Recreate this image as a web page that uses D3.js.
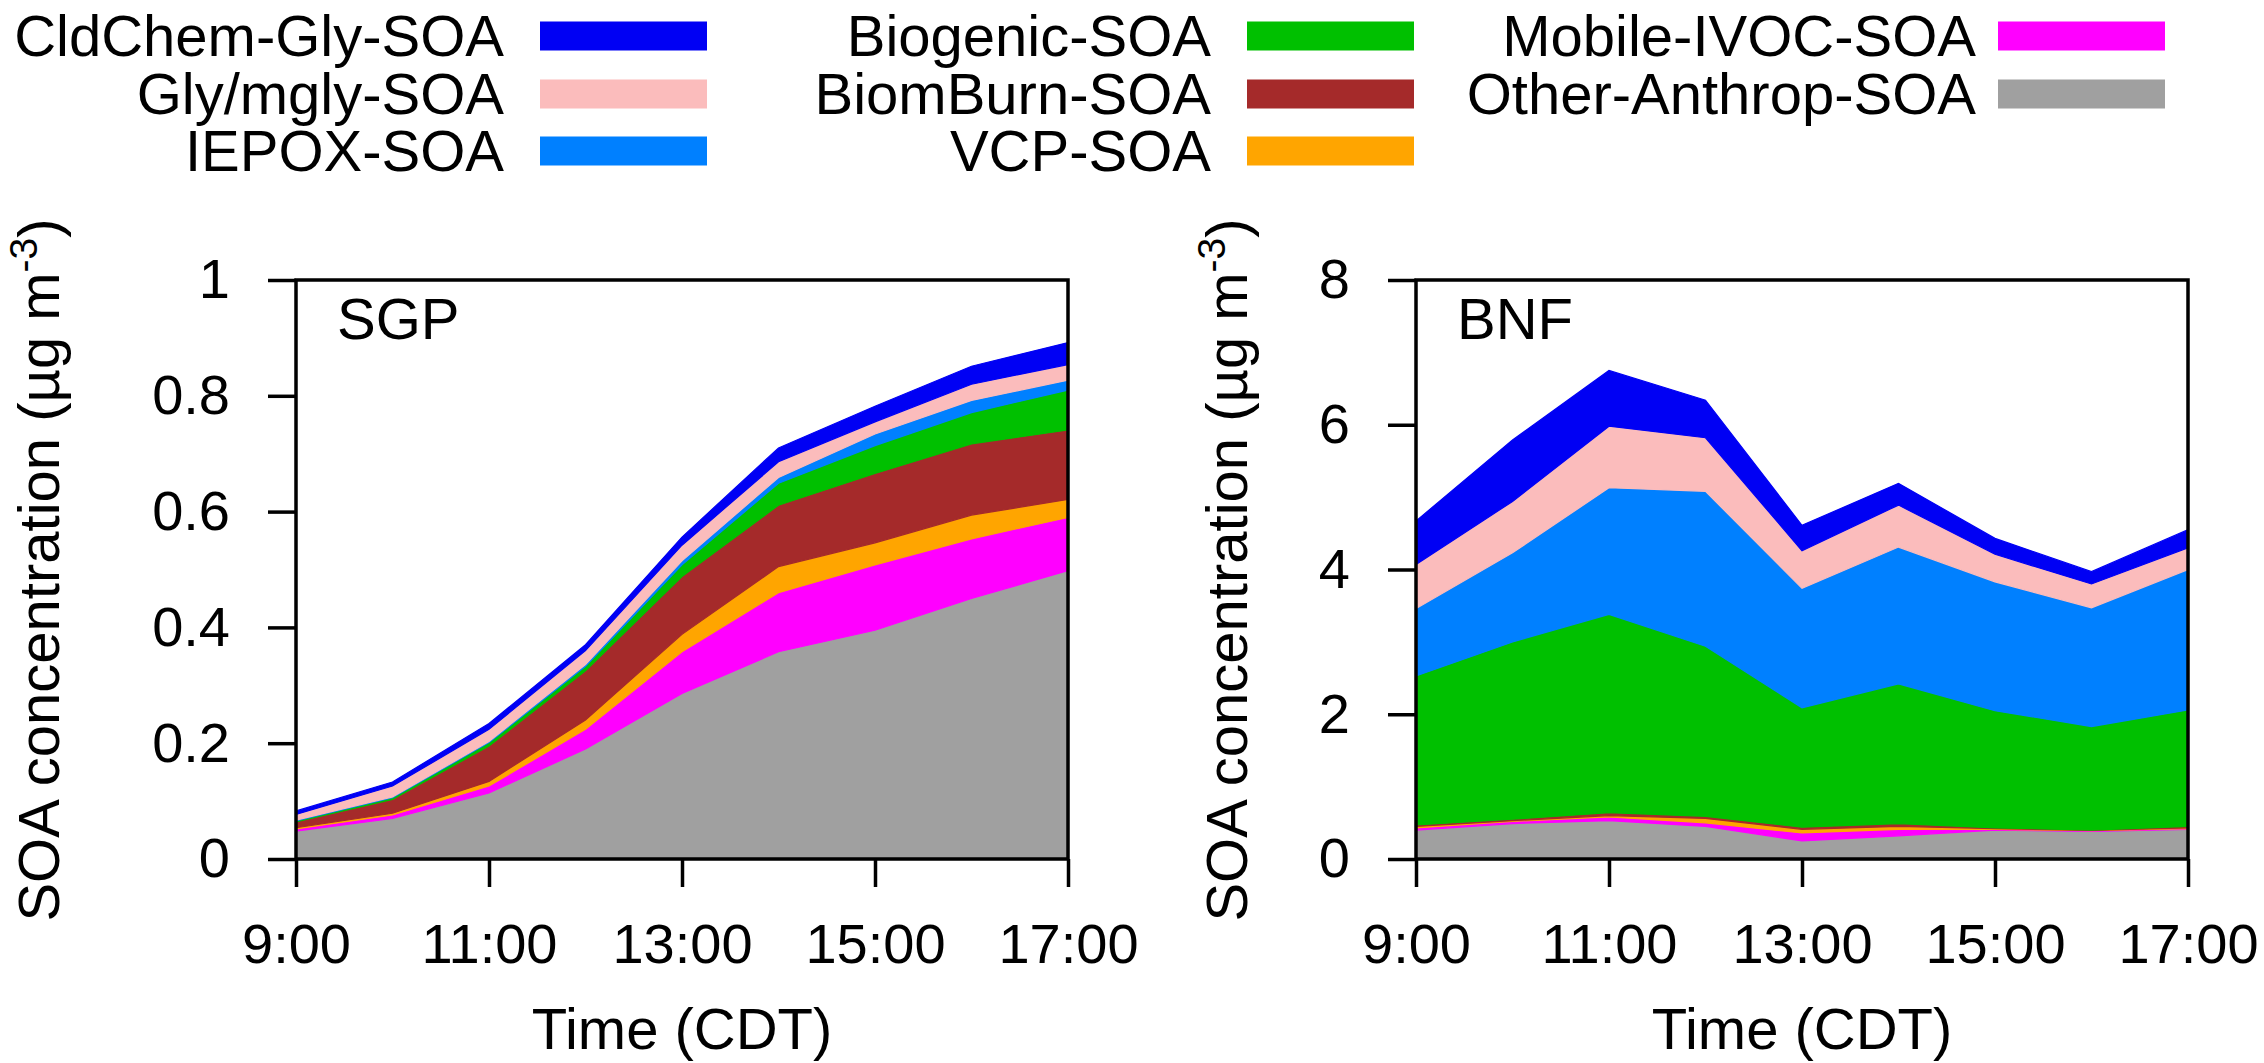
<!DOCTYPE html>
<html>
<head>
<meta charset="utf-8">
<script src="https://cdn.jsdelivr.net/npm/d3@7"></script>
<style>
  html, body { margin: 0; padding: 0; background: #fff; }
  svg { display: block; font-family: "Liberation Sans", Arial, Helvetica, sans-serif; }
</style>
</head>
<body>
<svg id="chart" width="2264" height="1063"></svg>
<script>
// Hourly model output, 9:00 to 17:00 CDT
const hours = [9, 10, 11, 12, 13, 14, 15, 16, 17];
const hourTicks = [9, 11, 13, 15, 17];

// SOA source categories, stacked from the bottom up
const layerNames = [
  "Other-Anthrop-SOA", "Mobile-IVOC-SOA", "VCP-SOA", "BiomBurn-SOA",
  "Biogenic-SOA", "IEPOX-SOA", "Gly/mgly-SOA", "CldChem-Gly-SOA"
];

// SGP site, µg m-3 per category
const sgpOtherAnthrop = [0.048, 0.070, 0.114, 0.190, 0.286, 0.358, 0.395, 0.450, 0.498];
const sgpMobileIvoc   = [0.004, 0.006, 0.012, 0.034, 0.072, 0.102, 0.113, 0.103, 0.092];
const sgpVcp          = [0.002, 0.003, 0.008, 0.016, 0.030, 0.045, 0.038, 0.041, 0.031];
const sgpBiomBurn     = [0.010, 0.024, 0.061, 0.085, 0.100, 0.106, 0.120, 0.123, 0.120];
const sgpBiogenic     = [0.002, 0.003, 0.006, 0.008, 0.020, 0.038, 0.048, 0.054, 0.069];
const sgpIepox        = [0.001, 0.001, 0.002, 0.003, 0.007, 0.010, 0.020, 0.021, 0.017];
const sgpGlyMgly      = [0.010, 0.019, 0.021, 0.024, 0.027, 0.027, 0.021, 0.028, 0.027];
const sgpCldChemGly   = [0.006, 0.007, 0.010, 0.010, 0.014, 0.024, 0.027, 0.031, 0.038];

// BNF site, µg m-3 per category
const bnfOtherAnthrop = [0.40, 0.49, 0.53, 0.45, 0.25, 0.32, 0.40, 0.38, 0.41];
const bnfMobileIvoc   = [0.03, 0.03, 0.05, 0.05, 0.11, 0.09, 0.01, 0.01, 0.01];
const bnfVcp          = [0.02, 0.01, 0.02, 0.06, 0.05, 0.04, 0.01, 0.005, 0.01];
const bnfBiomBurn     = [0.02, 0.02, 0.04, 0.03, 0.03, 0.04, 0.01, 0.005, 0.02];
const bnfBiogenic     = [2.06, 2.45, 2.74, 2.35, 1.65, 1.93, 1.62, 1.43, 1.61];
const bnfIepox        = [0.93, 1.23, 1.75, 2.14, 1.65, 1.89, 1.78, 1.64, 1.94];
const bnfGlyMgly      = [0.61, 0.71, 0.85, 0.74, 0.52, 0.58, 0.38, 0.33, 0.30];
const bnfCldChemGly   = [0.60, 0.85, 0.77, 0.52, 0.35, 0.30, 0.22, 0.17, 0.25];

// Y-axis ticks for each panel
const sgpYTicks = [0, 0.2, 0.4, 0.6, 0.8, 1];
const bnfYTicks = [0, 2, 4, 6, 8];

// Legend layout: three columns of entries
const legendColumns = [
  ["CldChem-Gly-SOA", "Gly/mgly-SOA", "IEPOX-SOA"],
  ["Biogenic-SOA", "BiomBurn-SOA", "VCP-SOA"],
  ["Mobile-IVOC-SOA", "Other-Anthrop-SOA"]
];

// Fill colour of each category
const layerColors = {
  "CldChem-Gly-SOA": "#0000f4",
  "Gly/mgly-SOA": "#fbbcbc",
  "IEPOX-SOA": "#0080ff",
  "Biogenic-SOA": "#00c000",
  "BiomBurn-SOA": "#a52a2a",
  "VCP-SOA": "#ffa500",
  "Mobile-IVOC-SOA": "#ff00ff",
  "Other-Anthrop-SOA": "#a0a0a0"
};

function buildRows(series) {
  return hours.map((h, i) => {
    const row = { hour: h };
    layerNames.forEach((name, k) => { row[name] = series[k][i]; });
    return row;
  });
}

const sgpRows = buildRows([sgpOtherAnthrop, sgpMobileIvoc, sgpVcp, sgpBiomBurn,
                           sgpBiogenic, sgpIepox, sgpGlyMgly, sgpCldChemGly]);
const bnfRows = buildRows([bnfOtherAnthrop, bnfMobileIvoc, bnfVcp, bnfBiomBurn,
                           bnfBiogenic, bnfIepox, bnfGlyMgly, bnfCldChemGly]);

const svg = d3.select("#chart");
const FONT = 58;
const TICK_FONT = 56;

const panelTop = 280, panelBottom = 859;

function drawPanel(opts) {
  const { rows, left, right, yMax, yTicks, yFormat, label, titleX, clipId } = opts;
  const x = d3.scaleLinear().domain([9, 17]).range([left, right]);
  const y = d3.scaleLinear().domain([0, yMax]).range([panelBottom, panelTop]);

  svg.append("clipPath").attr("id", clipId)
    .append("rect")
    .attr("x", left).attr("y", panelTop)
    .attr("width", right - left).attr("height", panelBottom - panelTop);

  const stacked = d3.stack().keys(layerNames)(rows);
  const area = d3.area()
    .x(d => x(d.data.hour))
    .y0(d => y(d[0]))
    .y1(d => y(d[1]))
    .curve(d3.curveLinear);

  svg.append("g").attr("clip-path", `url(#${clipId})`)
    .selectAll("path")
    .data(stacked)
    .join("path")
    .attr("d", area)
    .attr("fill", d => layerColors[d.key])
    .attr("stroke", d => layerColors[d.key])
    .attr("stroke-width", 1.2);

  // Axes with outward ticks
  const xAxis = d3.axisBottom(x)
    .tickValues(hourTicks)
    .tickFormat(d => `${d}:00`)
    .tickSize(28)
    .tickSizeOuter(0)
    .tickPadding(36);
  const gx = svg.append("g").attr("transform", `translate(0,${panelBottom})`).call(xAxis);

  const yAxis = d3.axisLeft(y)
    .tickValues(yTicks)
    .tickFormat(yFormat)
    .tickSize(28)
    .tickSizeOuter(0)
    .tickPadding(38);
  const gy = svg.append("g").attr("transform", `translate(${left},0)`).call(yAxis);

  [gx, gy].forEach(g => {
    g.select(".domain").remove();
    g.selectAll(".tick line").attr("stroke", "#000").attr("stroke-width", 3.5);
    g.selectAll(".tick text")
      .attr("fill", "#000")
      .style("font-size", TICK_FONT + "px")
      .style("font-family", "'Liberation Sans', Arial, sans-serif");
  });

  // Plot frame
  svg.append("rect")
    .attr("x", left).attr("y", panelTop)
    .attr("width", right - left).attr("height", panelBottom - panelTop)
    .attr("fill", "none").attr("stroke", "#000").attr("stroke-width", 3.5);

  // Site label
  svg.append("text")
    .attr("x", left + 41).attr("y", 339)
    .style("font-size", FONT + "px")
    .text(label);

  // X-axis title
  svg.append("text")
    .attr("x", (left + right) / 2).attr("y", 1049)
    .attr("text-anchor", "middle")
    .style("font-size", FONT + "px")
    .text("Time (CDT)");

  // Y-axis title with superscript exponent
  const yt = svg.append("text")
    .attr("transform", `translate(${titleX},${570}) rotate(-90)`)
    .attr("text-anchor", "middle")
    .style("font-size", "58px");
  yt.append("tspan").text("SOA concentration (µg m");
  yt.append("tspan").attr("dy", -22).style("font-size", "39px").text("-3");
  yt.append("tspan").attr("dy", 22).text(")");
}

drawPanel({
  rows: sgpRows, left: 296, right: 1068, yMax: 1, yTicks: sgpYTicks,
  yFormat: d => d === 0 ? "0" : d === 1 ? "1" : d3.format(".1f")(d),
  label: "SGP", titleX: 59, clipId: "clip-sgp"
});

drawPanel({
  rows: bnfRows, left: 1416, right: 2188, yMax: 8, yTicks: bnfYTicks,
  yFormat: d3.format("d"),
  label: "BNF", titleX: 1247, clipId: "clip-bnf"
});

// Legend
const legendTextRight = [504, 1211, 1976];
const legendSwatchLeft = [540, 1247, 1998];
const swatchWidth = 167, swatchHeight = 29;
const rowCenters = [36, 94, 151];

legendColumns.forEach((col, c) => {
  col.forEach((name, r) => {
    svg.append("text")
      .attr("x", legendTextRight[c])
      .attr("y", rowCenters[r] + 20)
      .attr("text-anchor", "end")
      .style("font-size", FONT + "px")
      .text(name);
    svg.append("rect")
      .attr("x", legendSwatchLeft[c])
      .attr("y", rowCenters[r] - swatchHeight / 2)
      .attr("width", swatchWidth)
      .attr("height", swatchHeight)
      .attr("fill", layerColors[name]);
  });
});
</script>
</body>
</html>
